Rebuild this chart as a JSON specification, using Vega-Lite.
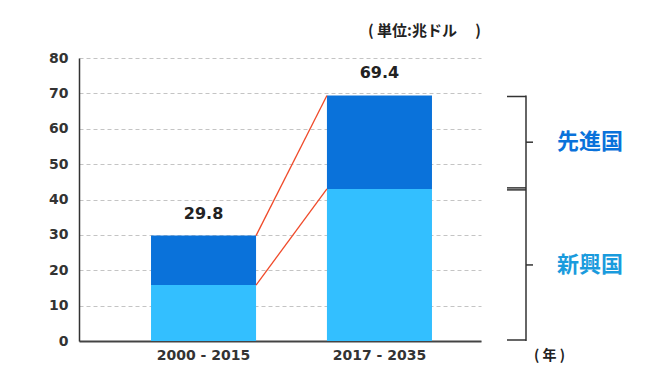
{
  "$schema": "https://vega.github.io/schema/vega-lite/v6.json",
  "width": 402,
  "height": 283,
  "autosize": "none",
  "padding": {"left": 79, "top": 58, "right": 179, "bottom": 49},
  "background": "white",
  "config": {
    "view": {"stroke": null},
    "font": "DejaVu Sans",
    "axisY": {
      "labelOverlap": false,
      "labelFont": "DejaVu Sans",
      "labelFontSize": 14,
      "labelFontWeight": "bold",
      "labelColor": "#333333",
      "labelPadding": 11,
      "ticks": false,
      "tickSize": 0,
      "domainColor": "#333333",
      "domainWidth": 1.5,
      "grid": true,
      "gridColor": "#c4c4c4",
      "gridDash": [4, 3],
      "gridWidth": 1
    },
    "axisX": {
      "labelAngle": 0,
      "labelFont": "DejaVu Sans",
      "labelFontSize": 14,
      "labelFontWeight": "bold",
      "labelColor": "#333333",
      "labelPadding": 7,
      "ticks": false,
      "tickSize": 0,
      "domainColor": "#444444",
      "domainWidth": 2,
      "grid": false
    }
  },
  "title": {
    "text": "(  単位:兆ドル　 )",
    "anchor": "end",
    "frame": "group",
    "orient": "top",
    "offset": 12,
    "font": "Noto Sans CJK JP",
    "fontSize": 15,
    "fontWeight": "bold",
    "color": "#222222"
  },
  "datasets": {
    "bars": [
      {"period": "2000 - 2015", "group": "新興国", "value": 15.8},
      {"period": "2000 - 2015", "group": "先進国", "value": 14.0},
      {"period": "2017 - 2035", "group": "新興国", "value": 43.0},
      {"period": "2017 - 2035", "group": "先進国", "value": 26.4}
    ],
    "links": [
      {"from": "2000 - 2015", "to": "2017 - 2035", "y_from": 29.8, "y_to": 69.4},
      {"from": "2000 - 2015", "to": "2017 - 2035", "y_from": 15.8, "y_to": 43.0}
    ]
  },
  "resolve": {"scale": {"x": "independent"}},
  "layer": [
    {
      "layer": [
        {
          "data": {"name": "bars"},
          "mark": {"type": "bar"},
          "encoding": {
            "x": {
              "field": "period",
              "type": "nominal",
              "sort": null,
              "scale": {"paddingInner": 0.403, "paddingOuter": 0.344, "align": 0.595},
              "axis": {
                "title": "( 年 )",
                "titleX": 470,
                "titleY": 14,
                "titleBaseline": "middle",
                "titleAlign": "center",
                "titleFont": "Noto Sans CJK JP",
                "titleFontSize": 14,
                "titleFontWeight": "bold",
                "titleColor": "#222222"
              }
            },
            "y": {
              "field": "value",
              "type": "quantitative",
              "stack": "zero",
              "scale": {"domain": [0, 80], "nice": false},
              "axis": {"title": null, "values": [0, 10, 20, 30, 40, 50, 60, 70, 80]}
            },
            "color": {
              "field": "group",
              "type": "nominal",
              "scale": {"domain": ["新興国", "先進国"], "range": ["#33BFFF", "#0A72DA"]},
              "legend": null
            },
            "order": {"field": "group", "sort": "descending"}
          }
        },
        {
          "data": {"name": "bars"},
          "transform": [
            {"aggregate": [{"op": "sum", "field": "value", "as": "total"}], "groupby": ["period"]}
          ],
          "mark": {"type": "text", "dy": -22, "fontSize": 16, "fontWeight": "bold", "color": "#222222", "baseline": "middle"},
          "encoding": {
            "x": {"field": "period", "type": "nominal", "sort": null, "axis": {"title": "( 年 )", "titleX": 470, "titleY": 14, "titleBaseline": "middle", "titleAlign": "center", "titleFont": "Noto Sans CJK JP", "titleFontSize": 14, "titleFontWeight": "bold", "titleColor": "#222222"}},
            "y": {"field": "total", "type": "quantitative", "axis": {"title": null, "values": [0, 10, 20, 30, 40, 50, 60, 70, 80]}},
            "text": {"field": "total", "type": "quantitative", "format": ".1f"}
          }
        },
        {
          "data": {"name": "links"},
          "mark": {"type": "rule", "color": "#F04A2A", "strokeWidth": 1.3},
          "encoding": {
            "x": {"field": "from", "type": "nominal", "bandPosition": 1, "axis": {"title": "( 年 )", "titleX": 470, "titleY": 14, "titleBaseline": "middle", "titleAlign": "center", "titleFont": "Noto Sans CJK JP", "titleFontSize": 14, "titleFontWeight": "bold", "titleColor": "#222222"}},
            "x2": {"field": "to", "bandPosition": 0},
            "y": {"field": "y_from", "type": "quantitative", "axis": {"title": null, "values": [0, 10, 20, 30, 40, 50, 60, 70, 80]}},
            "y2": {"field": "y_to"}
          }
        }
      ]
    },
    {
      "data": {"name": "bars"},
      "transform": [
        {"filter": "datum.period === '2017 - 2035'"},
        {"stack": "value", "groupby": ["period"], "sort": [{"field": "group", "order": "descending"}], "as": ["v0", "v1"]},
        {"calculate": "(datum.v0 + datum.v1) / 2", "as": "mid"}
      ],
      "encoding": {
        "x": {"datum": 447, "type": "quantitative", "scale": {"domain": [0, 402], "nice": false, "zero": false}, "axis": null}
      },
      "layer": [
        {
          "mark": {"type": "rule", "color": "#333333", "strokeWidth": 1.5},
          "encoding": {
            "y": {"field": "v0", "type": "quantitative", "axis": {"title": null, "values": [0, 10, 20, 30, 40, 50, 60, 70, 80]}},
            "y2": {"field": "v1"}
          }
        },
        {
          "mark": {"type": "rule", "color": "#333333", "strokeWidth": 1.5, "yOffset": 1},
          "encoding": {
            "x": {"datum": 428, "type": "quantitative"},
            "x2": {"datum": 447},
            "y": {"field": "v1", "type": "quantitative", "axis": {"title": null, "values": [0, 10, 20, 30, 40, 50, 60, 70, 80]}}
          }
        },
        {
          "mark": {"type": "rule", "color": "#333333", "strokeWidth": 1.5, "yOffset": -1},
          "encoding": {
            "x": {"datum": 428, "type": "quantitative"},
            "x2": {"datum": 447},
            "y": {"field": "v0", "type": "quantitative", "axis": {"title": null, "values": [0, 10, 20, 30, 40, 50, 60, 70, 80]}}
          }
        },
        {
          "mark": {"type": "rule", "color": "#333333", "strokeWidth": 1.5},
          "encoding": {
            "x": {"datum": 447, "type": "quantitative"},
            "x2": {"datum": 454},
            "y": {"field": "mid", "type": "quantitative", "axis": {"title": null, "values": [0, 10, 20, 30, 40, 50, 60, 70, 80]}}
          }
        },
        {
          "mark": {"type": "text", "font": "Noto Sans CJK JP", "fontSize": 22, "fontWeight": "bold", "align": "center", "baseline": "middle"},
          "encoding": {
            "x": {"datum": 511, "type": "quantitative"},
            "y": {"field": "mid", "type": "quantitative", "axis": {"title": null, "values": [0, 10, 20, 30, 40, 50, 60, 70, 80]}},
            "text": {"field": "group"},
            "color": {"condition": {"test": "datum.group === '先進国'", "value": "#0A72DA"}, "value": "#1A9BDD"}
          }
        }
      ]
    }
  ]
}
